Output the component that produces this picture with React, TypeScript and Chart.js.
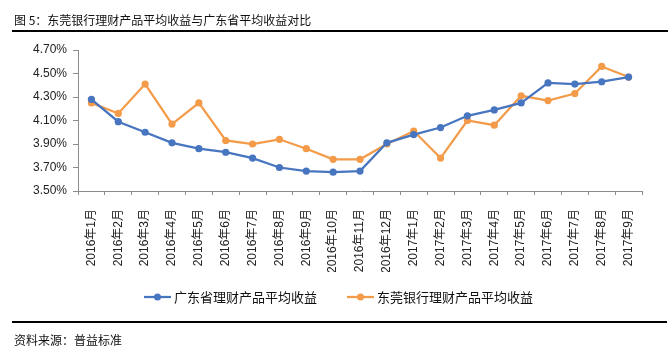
import React, { useEffect, useRef } from "react";
import { Chart, registerables } from "chart.js";

Chart.register(...registerables);

const categories = [
  "2016年1月", "2016年2月", "2016年3月", "2016年4月", "2016年5月", "2016年6月",
  "2016年7月", "2016年8月", "2016年9月", "2016年10月", "2016年11月", "2016年12月",
  "2017年1月", "2017年2月", "2017年3月", "2017年4月", "2017年5月", "2017年6月",
  "2017年7月", "2017年8月", "2017年9月",
];

const guangdongAvg = [
  4.28, 4.09, 4.0, 3.91, 3.86, 3.83, 3.78, 3.7, 3.67, 3.66, 3.67, 3.91,
  3.98, 4.04, 4.14, 4.19, 4.25, 4.42, 4.41, 4.43, 4.47,
];

const dongguanBank = [
  4.25, 4.16, 4.41, 4.07, 4.25, 3.93, 3.9, 3.94, 3.86, 3.77, 3.77, 3.9,
  4.01, 3.78, 4.1, 4.06, 4.31, 4.27, 4.33, 4.56, 4.47,
];

const seriesNames = ["广东省理财产品平均收益", "东莞银行理财产品平均收益"];
const seriesColors = ["#4775C0", "#F39B48"];

const yMin = 3.5;
const yMax = 4.7;
const yStep = 0.2;

const titleText = "图 5：东莞银行理财产品平均收益与广东省平均收益对比";
const sourceText = "资料来源：普益标准";

const FONT = "'Liberation Sans', Arial, 'Noto Sans CJK SC', sans-serif";
const CJK = "'Noto Sans CJK SC', 'Liberation Sans', sans-serif";

function makeMarker(color: string): HTMLCanvasElement {
  // 42px wide image; the visible line+dot occupies x 15..42
  const c = document.createElement("canvas");
  c.width = 42;
  c.height = 10;
  const ctx = c.getContext("2d")!;
  ctx.strokeStyle = color;
  ctx.lineWidth = 2.25;
  ctx.beginPath();
  ctx.moveTo(15, 5);
  ctx.lineTo(42, 5);
  ctx.stroke();
  ctx.fillStyle = color;
  ctx.beginPath();
  ctx.arc(28.5, 5, 3.5, 0, Math.PI * 2);
  ctx.fill();
  return c;
}

export default function App() {
  const ref = useRef<HTMLCanvasElement | null>(null);

  useEffect(() => {
    if (!ref.current) return;
    const markers = seriesColors.map((c) => makeMarker(c));
    const chart = new Chart(ref.current, {
      type: "line",
      data: {
        labels: categories,
        datasets: [
          {
            label: seriesNames[0],
            data: guangdongAvg,
            borderColor: seriesColors[0],
            backgroundColor: seriesColors[0],
            borderWidth: 2.25,
            pointRadius: 3.6,
            pointBorderWidth: 0,
            pointBackgroundColor: seriesColors[0],
            tension: 0,
          },
          {
            label: seriesNames[1],
            data: dongguanBank,
            borderColor: seriesColors[1],
            backgroundColor: seriesColors[1],
            borderWidth: 2.25,
            pointRadius: 3.6,
            pointBorderWidth: 0,
            pointBackgroundColor: seriesColors[1],
            tension: 0,
          },
        ],
      },
      options: {
        responsive: false,
        animation: false,
        devicePixelRatio: 1,
        layout: { padding: { top: 50, left: 11.5, right: 14, bottom: 39.5 } },
        plugins: {
          title: { display: false },
          tooltip: { enabled: false },
          legend: {
            display: true,
            position: "bottom",
            labels: {
              usePointStyle: true,
              pointStyleWidth: 35,
              boxHeight: 13,
              padding: 18.5,
              color: "#111",
              font: { size: 13, family: CJK },
              generateLabels: (ch: any) => {
                const items = Chart.defaults.plugins.legend.labels.generateLabels(ch);
                items.forEach((it: any, i: number) => {
                  it.pointStyle = markers[i];
                });
                return items;
              },
            },
          },
        },
        scales: {
          x: {
            type: "category",
            offset: true,
            grid: {
              display: true,
              offset: true,
              drawOnChartArea: false,
              drawTicks: true,
              tickLength: 4,
              color: "#8c8c8c",
            },
            border: { display: true, color: "#8c8c8c", width: 1 },
            ticks: {
              autoSkip: false,
              maxRotation: 90,
              minRotation: 90,
              padding: 14,
              color: "#222",
              font: { size: 12, family: FONT },
            },
            afterFit: (s: any) => {
              s.height = 81;
            },
          },
          y: {
            type: "linear",
            position: "left",
            min: yMin,
            max: yMax,
            grid: {
              display: true,
              drawOnChartArea: false,
              drawTicks: true,
              tickLength: 5,
              color: "#8c8c8c",
            },
            border: { display: true, color: "#8c8c8c", width: 1 },
            ticks: {
              stepSize: yStep,
              padding: 6,
              color: "#222",
              font: { size: 12, family: FONT },
              callback: (v: any) => Number(v).toFixed(2) + "%",
            },
            afterFit: (s: any) => {
              s.width = 66.5;
            },
          },
          yR: {
            type: "linear",
            position: "right",
            display: true,
            grid: { display: false, drawTicks: false },
            border: { display: false },
            ticks: { display: false },
            afterFit: (s: any) => {
              s.width = 12;
            },
          },
        },
      },
    } as any);
    return () => chart.destroy();
  }, []);

  return (
    <div
      style={{
        position: "fixed",
        left: 0,
        top: 0,
        width: 668,
        height: 353,
        background: "#fff",
        overflow: "hidden",
      }}
    >
      <canvas
        ref={ref}
        width={668}
        height={353}
        style={{ position: "absolute", left: 0, top: 0, width: 668, height: 353 }}
      />
      <div
        style={{
          position: "absolute",
          left: 14,
          top: 11,
          fontFamily: CJK,
          fontSize: 12,
          lineHeight: "18px",
          color: "#111",
          whiteSpace: "nowrap",
        }}
      >
        {titleText}
      </div>
      <div
        style={{
          position: "absolute",
          left: 12,
          top: 30,
          width: 656,
          height: 2,
          background: "#000",
        }}
      />
      <div
        style={{
          position: "absolute",
          left: 12,
          top: 321,
          width: 655,
          height: 2,
          background: "#000",
        }}
      />
      <div
        style={{
          position: "absolute",
          left: 14,
          top: 331,
          fontFamily: CJK,
          fontSize: 12,
          lineHeight: "18px",
          color: "#111",
          whiteSpace: "nowrap",
        }}
      >
        {sourceText}
      </div>
    </div>
  );
}
